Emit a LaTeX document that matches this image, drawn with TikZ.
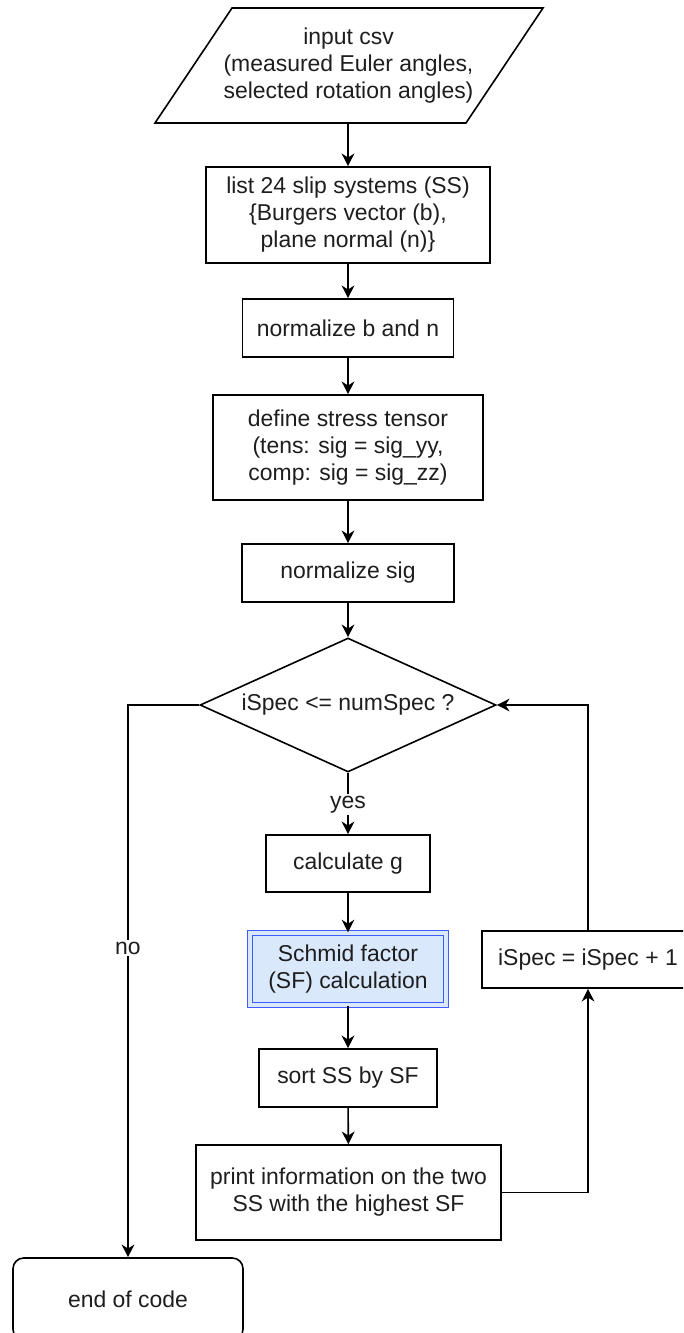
\documentclass[tikz,border=0pt]{standalone}
\usepackage{fontspec}
\setmainfont{Liberation Sans}
\usetikzlibrary{shapes.geometric,arrows.meta}
\definecolor{txt}{HTML}{1E1E1E}
\definecolor{sffill}{HTML}{DAE8FC}
\definecolor{sfline}{HTML}{3F5CFF}
\tikzset{
  base/.style={font=\fontsize{17.2}{20.2}\selectfont, text=txt, align=center, inner sep=0pt},
  box/.style={base, draw=black, line width=1.2pt, fill=white},
  arr/.style={line width=1.2pt, -{Stealth[length=9.5pt,width=9.5pt,inset=3pt]}},
  ln/.style={line width=1.2pt},
  lbl/.style={base, fill=white, inner sep=1.5pt}
}
\begin{document}
\begin{tikzpicture}[x=0.75pt,y=-0.75pt]
\useasboundingbox (0,0) rectangle (683,1333);
\clip (0,0) rectangle (683,1333);
% input parallelogram
\node[base, minimum width=311*0.75pt, minimum height=115*0.75pt] (in) at (348.5,65.5)
  {input csv\\(measured Euler angles,\\selected rotation angles)};
\draw[ln, line join=miter] (155,123) -- (232,8) -- (543,8) -- (466,123) -- cycle;
\node[box, minimum width=284*0.75pt, minimum height=96*0.75pt] (ss) at (348,215)
  {list 24 slip systems (SS)\\\{Burgers vector (b),\\plane normal (n)\}};
\node[box, minimum width=211*0.75pt, minimum height=58*0.75pt] (nb) at (348,328)
  {normalize b and n};
\node[box, minimum width=270*0.75pt, minimum height=105*0.75pt] (st) at (348,447.5)
  {define stress tensor\\(tens: sig = sig\_yy,\\comp: sig = sig\_zz)};
\node[box, minimum width=212*0.75pt, minimum height=58*0.75pt] (ns) at (348,573)
  {normalize sig};
\node[box, diamond, aspect=2.2, minimum width=296*0.75pt, minimum height=134*0.75pt] (dec) at (348,705)
  {iSpec <= numSpec ?};
\node[box, minimum width=164*0.75pt, minimum height=57*0.75pt] (cg) at (348,863.5)
  {calculate g};
\node[base, draw=sfline, line width=0.9pt, double=sffill, double distance=2.8pt, fill=sffill,
      minimum width=196*0.75pt, minimum height=72*0.75pt] (sf) at (348,969)
  {Schmid factor\\(SF) calculation};
\node[box, minimum width=178*0.75pt, minimum height=58*0.75pt] (so) at (348,1078)
  {sort SS by SF};
\node[box, minimum width=305*0.75pt, minimum height=95*0.75pt] (pr) at (348.5,1192.5)
  {print information on the two\\SS with the highest SF};
\node[box, minimum width=212*0.75pt, minimum height=57*0.75pt] (inc) at (588,959.5)
  {iSpec = iSpec + 1};
\node[box, rounded corners=8pt, minimum width=230*0.75pt, minimum height=82*0.75pt] (end) at (128,1299)
  {end of code};
% connectors
\draw[arr] (ss.north |- in.south) -- (ss.north);
\draw[arr] (ss) -- (nb);
\draw[arr] (nb) -- (st);
\draw[arr] (st) -- (ns);
\draw[arr] (ns.south) -- (dec.north);
\draw[arr] (dec.south) -- node[lbl, pos=0.52] (yes) {yes} (cg.north);
\draw[arr] (cg) -- (sf);
\draw[arr] (sf) -- (so);
\draw[arr] (so) -- (pr);
\draw[arr] (pr.east) -| (inc.south);
\draw[arr] (inc.north) |- (dec.east);
\draw[arr] (dec.west) -| node[lbl, pos=0.72] (no) {no} (end.north);
\end{tikzpicture}
\end{document}
